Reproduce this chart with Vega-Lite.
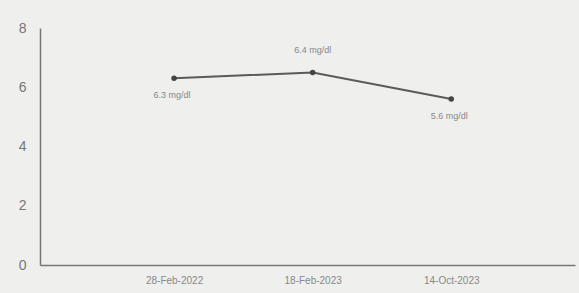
{
  "$schema": "https://vega.github.io/schema/vega-lite/v6.json",
  "width": 535,
  "height": 237,
  "autosize": {"type": "none"},
  "padding": {"left": 40, "top": 28, "right": 4, "bottom": 28},
  "background": "#efefee",
  "config": {"view": {"stroke": null}, "font": "Liberation Sans"},
  "data": {"values": [
    {"date": "28-Feb-2022", "value": 6.3, "label": "6.3 mg/dl"},
    {"date": "18-Feb-2023", "value": 6.5, "label": "6.4 mg/dl"},
    {"date": "14-Oct-2023", "value": 5.6, "label": "5.6 mg/dl"}
  ]},
  "encoding": {
    "x": {"field": "date", "type": "ordinal", "sort": null,
      "scale": {"type": "point", "padding": 0.93, "align": 0.52},
      "axis": {"title": null, "labelAngle": 0, "domainColor": "#777", "domainWidth": 1.5, "ticks": false, "labelColor": "#888", "labelFontSize": 10, "labelPadding": 10}},
    "y": {"field": "value", "type": "quantitative",
      "scale": {"domain": [0, 8]},
      "axis": {"title": null, "values": [0, 2, 4, 6, 8], "grid": false, "ticks": false, "domainColor": "#777", "domainWidth": 1.5, "labelColor": "#777", "labelFontSize": 14, "labelPadding": 14}}
  },
  "layer": [
    {"mark": {"type": "line", "color": "#5a5a5a", "strokeWidth": 2}},
    {"mark": {"type": "point", "filled": true, "color": "#444", "size": 30, "opacity": 1}},
    {"transform": [{"filter": "datum.date == '18-Feb-2023'"}],
     "mark": {"type": "text", "dy": -22, "color": "#888", "fontSize": 9},
     "encoding": {"text": {"field": "label"}}},
    {"transform": [{"filter": "datum.date != '18-Feb-2023'"}],
     "mark": {"type": "text", "dy": 17, "dx": -2, "color": "#888", "fontSize": 9},
     "encoding": {"text": {"field": "label"}}}
  ]
}
